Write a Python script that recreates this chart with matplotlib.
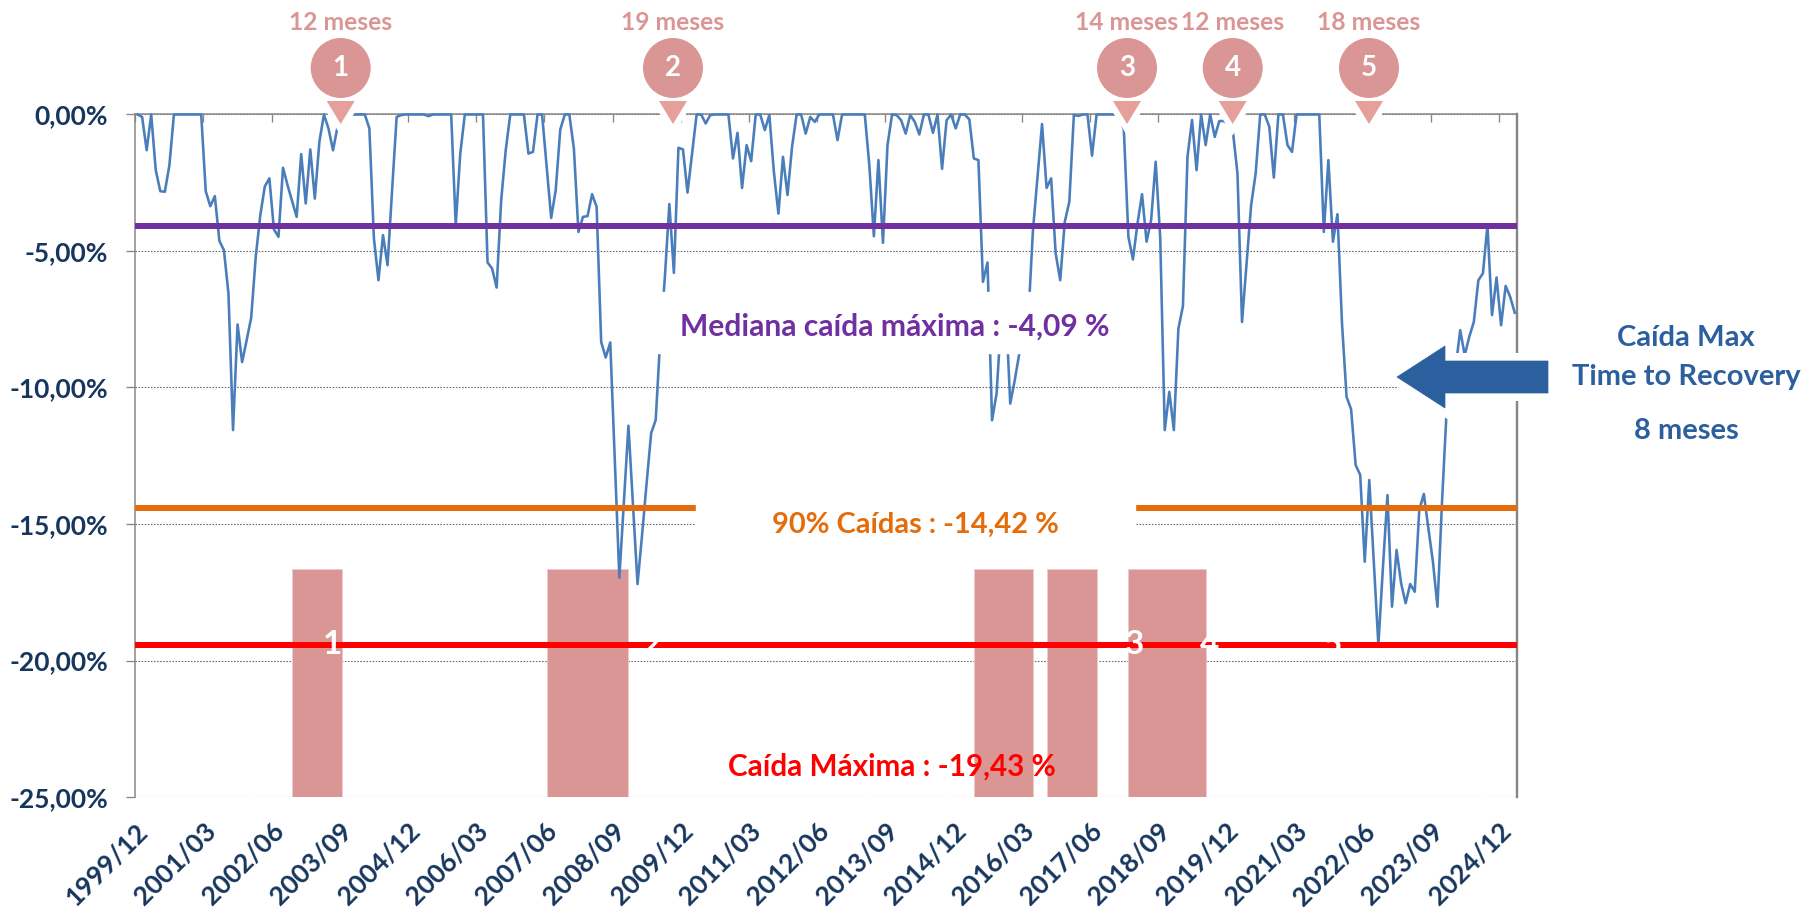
import matplotlib
matplotlib.use("Agg")
import matplotlib.pyplot as plt
from matplotlib.patches import Rectangle, Polygon, Circle
from matplotlib.transforms import Affine2D

plt.rcParams['font.family'] = ['Lato', 'DejaVu Sans']

# drawdown mensual (%)
caidas = [
    0, -0.09, -1.31, 0, -2.04, -2.81, -2.83, -1.86, 0, 0, 0, 0, 0, 0, 0, -2.81, -3.36, -2.99, -4.63, -4.97,
    -6.56, -11.56, -7.69, -9.07, -8.27, -7.44, -5.21, -3.69, -2.63, -2.34, -4.21, -4.48, -1.95, -2.59, -3.17, -3.75, -1.45, -3.26, -1.28, -3.08,
    -1.0, 0, -0.51, -1.31, -0.45, 0, 0, 0, 0, 0, 0, -0.51, -4.54, -6.07, -4.42, -5.52, -2.77, -0.09, -0.02, 0,
    0, 0, 0, 0, -0.06, 0, 0, 0, 0, 0, -4.05, -1.43, 0, 0, 0, 0, 0, -5.42, -5.64, -6.34,
    -3.14, -1.31, 0, 0, 0, 0, -1.43, -1.37, 0, 0, -1.9, -3.79, -2.77, -0.55, 0, 0, -1.25, -4.3, -3.75, -3.72,
    -2.92, -3.38, -8.33, -8.9, -8.35, -12.7, -16.97, -14.2, -11.4, -14.3, -17.2, -15.4, -13.5, -11.67, -11.19, -8.2, -6.0, -3.28, -5.8, -1.22,
    -1.28, -2.86, -1.43, 0, 0, -0.33, -0.02, 0, 0, 0, 0, -1.61, -0.67, -2.69, -1.12, -1.71, 0, 0, -0.57, -0.02,
    -2.1, -3.63, -1.55, -2.95, -1.18, 0, 0, -0.7, -0.09, -0.27, 0, 0, 0, 0, -0.94, 0, 0, 0, 0, 0,
    0, -1.86, -4.46, -1.67, -4.7, -1.12, 0, -0.02, -0.21, -0.7, -0.02, -0.27, -0.73, 0, 0, -0.67, 0, -1.99, -0.21, 0,
    -0.51, 0, 0, -0.18, -1.61, -1.67, -6.13, -5.42, -11.2, -10.22, -7.5, -6.9, -10.59, -9.73, -8.75, -8.0, -7.4, -4.24, -2.28, -0.35,
    -2.69, -2.34, -5.09, -6.07, -3.93, -3.2, -0.02, -0.05, 0, 0, -1.51, 0, 0, 0, 0, 0, 0, -0.57, -4.48, -5.31,
    -3.99, -2.92, -4.66, -3.87, -1.73, -4.5, -11.56, -10.16, -11.56, -7.84, -7.02, -1.55, -0.2, -2.04, 0, -1.12, 0, -0.82, -0.24, -0.24,
    -0.35, -0.63, -2.16, -7.6, -5.46, -3.32, -2.16, 0, 0, -0.45, -2.31, 0, 0, -1.12, -1.37, 0, 0, 0, 0, 0,
    0, -4.3, -1.67, -4.66, -3.65, -7.66, -10.34, -10.8, -12.84, -13.2, -16.38, -13.39, -16.4, -19.43, -16.6, -13.94, -18.03, -15.95, -17.17, -17.9,
    -17.2, -17.48, -14.48, -13.9, -15.16, -16.38, -18.03, -14.2, -10.9, -10.0, -9.28, -7.9, -8.82, -8.14, -7.6, -6.07, -5.82, -4.05, -7.35, -5.97,
    -7.72, -6.28, -6.68, -7.26,
]
mediana = -4.09
p90 = -14.42
maxima = -19.43

etiquetas_x = ["1999/12", "2001/03", "2002/06", "2003/09", "2004/12", "2006/03", "2007/06", "2008/09", "2009/12", "2011/03",
               "2012/06", "2013/09", "2014/12", "2016/03", "2017/06", "2018/09", "2019/12", "2021/03", "2022/06", "2023/09", "2024/12"]
ticks_y = [0, -5, -10, -15, -20, -25]
etiquetas_y = ["0,00%", "-5,00%", "-10,00%", "-15,00%", "-20,00%", "-25,00%"]

# periodos de caida mas largos (indice de mes)
bar_inicio = [34, 90, 184, 200, 218]
bar_fin = [45, 108, 197, 211, 235]
bar_tope = -16.65
meses = ["12 meses", "19 meses", "14 meses", "12 meses", "18 meses"]
numeros = ["1", "2", "3", "4", "5"]

W, H = 1804, 907
NAVY = "#17365D"
ROSA = "#D99694"
AZUL = "#2C5F9E"
PURPLE = "#7030A0"
ORANGE = "#E46C0A"
LW = 72 / 100  # 1 px en puntos

fig = plt.figure(figsize=(W / 100, H / 100), dpi=100)
ax = fig.add_axes([135.3 / W, 1 - 797 / H, (1517 - 135.3) / W, (797 - 114.5) / H])
px = Affine2D().scale(1 / W, -1 / H).translate(0, 1) + fig.transFigure

x = list(range(len(caidas)))
ax.set_xlim(-0.5, 303.5)
ax.set_ylim(-25, 0)

ax.bar(bar_inicio, [bar_tope - (-25)] * 5, bottom=-25, width=[f - i for i, f in zip(bar_inicio, bar_fin)],
       align='edge', color=ROSA, edgecolor="#EBCBCA", linewidth=0.6, zorder=1)
ax.plot(x, caidas, color="#4A7EBB", lw=2.6 * LW, clip_on=False, zorder=2, solid_joinstyle='round')
ax.plot([x[0] - 0.5, x[-1] + 0.5], [mediana, mediana], color=PURPLE, lw=6 * LW, zorder=3)
ax.plot([x[0] - 0.5, x[-1] + 0.5], [p90, p90], color=ORANGE, lw=6 * LW, zorder=3)
ax.plot([x[0] - 0.5, x[-1] + 0.5], [maxima, maxima], color="#FF0000", lw=6 * LW, zorder=3)

# ejes
ax.set_yticks(ticks_y)
ax.set_yticklabels(etiquetas_y, va='center_baseline')
ax.set_xticks([-0.5 + 15 * k for k in range(len(etiquetas_x))])
ax.set_xticklabels(etiquetas_x, rotation=45, ha='right', va='top', rotation_mode='anchor')
ax.grid(axis='y', color="#666666", linestyle=(0, (1.4, 1.4)), linewidth=1.1 * LW)
ax.set_axisbelow(True)
ax.tick_params(axis='y', length=9 * LW, width=1.3 * LW, color="#868686", labelsize=19, labelcolor=NAVY, pad=18 * LW)
ax.tick_params(axis='x', top=True, bottom=False, labelbottom=True, direction='in', length=8 * LW, width=1.3 * LW,
               color="#868686", labelsize=19, labelcolor=NAVY, pad=22 * LW)
for lab in ax.get_xticklabels() + ax.get_yticklabels():
    lab.set_fontweight('bold')
for s in ['top', 'left', 'right']:
    ax.spines[s].set_color("#868686")
    ax.spines[s].set_zorder(1.5)
ax.spines['top'].set_linewidth(1.5 * LW)
ax.spines['left'].set_linewidth(1.5 * LW)
ax.spines['right'].set_linewidth(2.4 * LW)
ax.spines['bottom'].set_visible(False)

# cajas blancas de los textos
ax.add_patch(Rectangle((655, 292), 470, 61, transform=px, color="white", zorder=4, clip_on=False))
ax.add_patch(Rectangle((696, 495), 439, 50, transform=px, color="white", zorder=4, clip_on=False))

# flecha
flecha = [(1397, 377), (1445, 346), (1445, 361), (1548, 361), (1548, 393), (1445, 393), (1445, 408)]
ax.add_patch(Polygon(flecha, transform=px, facecolor=AZUL, edgecolor="white", lw=16 * LW, zorder=5, clip_on=False))
ax.add_patch(Polygon(flecha, transform=px, facecolor=AZUL, edgecolor=AZUL, lw=0.5, zorder=5.1, clip_on=False))

# marcadores de arriba
cx = [340.7, 673, 1127, 1232.7, 1369]
for c, m, n in zip(cx, meses, numeros):
    tri = [(c - 14, 101), (c + 14, 101), (c, 124)]
    ax.add_patch(Polygon(tri, transform=px, facecolor="#E6A09C", edgecolor="white", lw=12 * LW, zorder=5, clip_on=False))
    ax.add_patch(Polygon(tri, transform=px, facecolor="#E6A09C", edgecolor="none", zorder=5.1, clip_on=False))
    ax.add_patch(Circle((c, 68), 30, transform=px, facecolor=ROSA, edgecolor="none", zorder=5.2, clip_on=False))
    ax.text(c, 68, n, transform=px, color="white", fontsize=20, fontweight='bold', ha='center', va='center', zorder=6)
    ax.text(c, 22, m, transform=px, color=ROSA, fontsize=17.7, fontweight='bold', ha='center', va='center', zorder=6, clip_on=False)

# numeros blancos sobre la linea roja
xnum = [333, 652, 1135, 1210, 1332]
for xn, n in zip(xnum, numeros):
    ax.text(xn, 645, n, transform=px, color="white", fontsize=24, fontweight='bold', ha='center', va='center', zorder=3.5)

ax.text(894.5, 327, "Mediana caída máxima : -4,09 %", transform=px, color=PURPLE, fontsize=21.6, fontweight='bold', ha='center', va='center', zorder=6)
ax.text(915, 525, "90% Caídas : -14,42 %", transform=px, color=ORANGE, fontsize=20.9, fontweight='bold', ha='center', va='center', zorder=6)
ax.text(892, 767, "Caída Máxima : -19,43 %", transform=px, color="#FF0000", fontsize=21.3, fontweight='bold', ha='center', va='center', zorder=6)

ax.text(1686, 338, "Caída Max", transform=px, color=AZUL, fontsize=21, fontweight='bold', ha='center', va='center', zorder=6, clip_on=False)
ax.text(1686, 377, "Time to Recovery", transform=px, color=AZUL, fontsize=21, fontweight='bold', ha='center', va='center', zorder=6, clip_on=False)
ax.text(1686, 431, "8 meses", transform=px, color=AZUL, fontsize=21, fontweight='bold', ha='center', va='center', zorder=6, clip_on=False)

fig.savefig("out.png", dpi=100)
